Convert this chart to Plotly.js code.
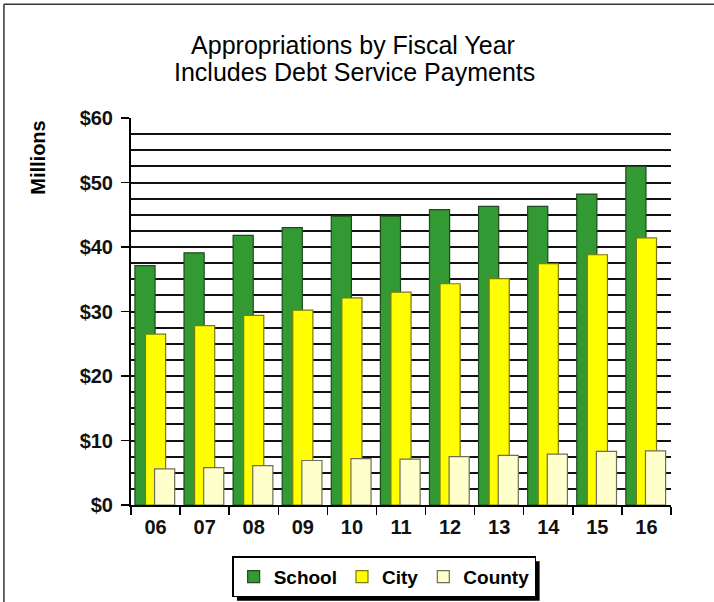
<!DOCTYPE html>
<html>
<head>
<meta charset="utf-8">
<script src="https://cdn.plot.ly/plotly-3.0.1.min.js"></script>
<style>html,body{margin:0;padding:0;background:#fff;}#chart{width:714px;height:602px;}</style>
</head>
<body>
<div id="chart"></div>
<script>
var years = ['06','07','08','09','10','11','12','13','14','15','16'];
var school = [37.1, 39.1, 41.8, 43.0, 44.8, 44.8, 45.8, 46.3, 46.3, 48.2, 52.5];
var city = [26.5, 27.8, 29.4, 30.2, 32.1, 33.0, 34.3, 35.1, 37.4, 38.8, 41.4];
var county = [5.6, 5.8, 6.1, 6.9, 7.2, 7.1, 7.5, 7.7, 7.9, 8.3, 8.4];
var seriesNames = ['School', 'City', 'County'];
var yTickVals = [0, 10, 20, 30, 40, 50, 60];
var yTickText = ['$0', '$10', '$20', '$30', '$40', '$50', '$60'];

var FONT = 'Liberation Sans, Arial, sans-serif';
var L = 131, R = 43.3, T = 117.7, B = 97.3;
var W = 714, H = 602;
var pw = W - L - R, ph = H - T - B;
function px2x(p){ return (p - L) / pw; }
function py2y(p){ return (H - B - p) / ph; }

var barW = 0.41;
function bar(name, vals, fill, line, off){
  return {type:'bar', name:name, x:years, y:vals, width:barW, offset:off,
    marker:{color:fill, line:{color:line, width:1.2}}, hoverinfo:'x+y'};
}
var data = [
  bar(seriesNames[0], school, '#339933', '#1e4a1e', -0.42),
  bar(seriesNames[1], city, '#ffff00', '#7a7a10', -0.205),
  bar(seriesNames[2], county, '#ffffcc', '#6e6e58', -0.02)
];

var legTop = 556;
var layout = {
  width: W, height: H,
  margin: {l:L, r:R, t:T, b:B, pad:0, autoexpand:false},
  paper_bgcolor:'#fff', plot_bgcolor:'#fff',
  barmode:'overlay',
  showlegend:true,
  font:{family:FONT, color:'#000'},
  title:{text:'Appropriations by Fiscal Year', font:{family:FONT, size:25, color:'#000'},
    xref:'container', x:353/W, xanchor:'center', yref:'container', y:1-45/H, yanchor:'middle', automargin:false},
  xaxis:{type:'category', showgrid:false, showline:true, linecolor:'#000', linewidth:2,
    ticks:'outside', ticklen:8, tickwidth:1.5, tickcolor:'#000', tickson:'boundaries',
    tickfont:{family:FONT, size:20, color:'#111', weight:'bold'}, ticklabelstandoff:3,
    zeroline:false, fixedrange:true, automargin:false},
  yaxis:{range:[0,60], tickvals:yTickVals, ticktext:yTickText, showline:true, linecolor:'#000', linewidth:2,
    ticks:'outside', ticklen:8, tickwidth:1.5, tickcolor:'#000',
    showgrid:true, gridcolor:'#111', gridwidth:2, zeroline:false,
    minor:{dtick:2.5, showgrid:true, gridcolor:'#111', gridwidth:2, ticks:''},
    tickfont:{family:FONT, size:20, color:'#111', weight:'bold'}, ticklabelstandoff:4,
    fixedrange:true, automargin:false},
  legend:{orientation:'h', x:px2x(384), xanchor:'center', y:py2y(legTop), yanchor:'top',
    bgcolor:'#fff', bordercolor:'#000', borderwidth:1.5,
    font:{family:FONT, size:19, color:'#000', weight:'bold'}},
  annotations:[
    {text:'Includes Debt Service Payments', xref:'paper', yref:'paper', x:px2x(354), y:py2y(72),
     xanchor:'center', yanchor:'middle', showarrow:false, font:{family:FONT, size:25, color:'#000'}},
    {text:'Millions', xref:'paper', yref:'paper', x:px2x(38.5), y:py2y(157), textangle:-90,
     xanchor:'center', yanchor:'middle', showarrow:false, font:{family:FONT, size:20, color:'#000', weight:'bold'}}
  ],
  shapes:[
    {type:'line', xref:'paper', yref:'paper', x0:px2x(4), x1:px2x(720), y0:py2y(4), y1:py2y(4), line:{color:'#333', width:1.5}},
    {type:'line', xref:'paper', yref:'paper', x0:px2x(4), x1:px2x(4), y0:py2y(4), y1:py2y(610), line:{color:'#333', width:1.5}}
  ]
};
Plotly.newPlot('chart', data, layout, {displayModeBar:false, staticPlot:true}).then(function(gd){
  var lg = gd.querySelector('.legend .bg');
  if (lg) {
    var bb = lg.getBoundingClientRect();
    var shp = layout.shapes.slice();
    shp.push({type:'rect', xref:'paper', yref:'paper', layer:'below',
      x0:px2x(bb.left + 4), x1:px2x(bb.right + 4), y0:py2y(bb.top + 4), y1:py2y(bb.bottom + 4),
      fillcolor:'#000', line:{width:0}});
    Plotly.relayout(gd, {shapes: shp});
  }
});
</script>
</body>
</html>
